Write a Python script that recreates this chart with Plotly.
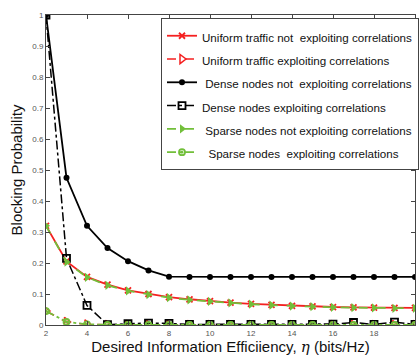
import plotly.graph_objects as go

eta = list(range(2, 21))

uniform_not = [0.32, 0.205, 0.155, 0.13, 0.112, 0.100, 0.090, 0.083, 0.077, 0.072,
               0.068, 0.065, 0.062, 0.060, 0.058, 0.057, 0.056, 0.055, 0.055]
uniform_exp = [0.045, 0.010, 0.002, 0.0, 0.0, 0.0, 0.0, 0.0, 0.0, 0.0,
               0.0, 0.0, 0.0, 0.0, 0.0, 0.0, 0.0, 0.0, 0.0]
dense_not = [1.0, 0.475, 0.32, 0.248, 0.206, 0.176, 0.156, 0.155, 0.155, 0.155,
             0.155, 0.155, 0.155, 0.155, 0.155, 0.155, 0.155, 0.155, 0.155]
dense_exp = [1.0, 0.215, 0.063, 0.001, 0.004, 0.006, 0.005, 0.002, 0.002, 0.002,
             0.002, 0.002, 0.002, 0.002, 0.003, 0.008, 0.002, 0.009, 0.002]
sparse_not = [0.32, 0.203, 0.154, 0.128, 0.110, 0.098, 0.088, 0.081, 0.076, 0.071,
              0.067, 0.064, 0.061, 0.059, 0.057, 0.056, 0.055, 0.054, 0.054]
sparse_exp = [0.045, 0.010, 0.002, 0.0, 0.0, 0.0, 0.0, 0.0, 0.0, 0.0,
              0.0, 0.0, 0.0, 0.0, 0.0, 0.0, 0.0, 0.0, 0.0]

names = [
    "Uniform traffic not  exploiting correlations",
    "Uniform traffic exploiting correlations",
    " Dense nodes not  exploiting correlations",
    "Dense nodes exploiting correlations",
    " Sparse nodes not exploiting correlations",
    "  Sparse nodes  exploiting correlations",
]

RED = "#f52020"
GREEN = "#72bf3a"
BLACK = "#000000"

def lbl(s):
    return '<span style="font-size:11.6px">' + s.replace("  ", "&nbsp; ") + '</span>'

fig = go.Figure()
fig.add_trace(go.Scatter(x=eta, y=uniform_not, name=lbl(names[0]), mode="lines+markers",
                         line=dict(color=RED, width=1.8),
                         marker=dict(symbol="x-thin", size=6, line=dict(color=RED, width=1.8))))
fig.add_trace(go.Scatter(x=eta, y=uniform_exp, name=lbl(names[1]), mode="lines+markers",
                         line=dict(color=RED, width=1.5, dash="dash"),
                         marker=dict(symbol="triangle-right-open", size=8, line=dict(color=RED, width=1.5))))
fig.add_trace(go.Scatter(x=eta, y=dense_not, name=lbl(names[2]), mode="lines+markers",
                         line=dict(color=BLACK, width=1.8),
                         marker=dict(symbol="circle", size=6, color=BLACK)))
fig.add_trace(go.Scatter(x=eta, y=dense_exp, name=lbl(names[3]), mode="lines+markers",
                         line=dict(color=BLACK, width=1.5, dash="dashdot"),
                         marker=dict(symbol="square-open", size=7, line=dict(color=BLACK, width=1.8))))
fig.add_trace(go.Scatter(x=eta, y=sparse_not, name=lbl(names[4]), mode="lines+markers",
                         line=dict(color=GREEN, width=1.8, dash="dash"),
                         marker=dict(symbol="triangle-right", size=8, color=GREEN)))
fig.add_trace(go.Scatter(x=eta, y=sparse_exp, name=lbl(names[5]), mode="lines+markers",
                         line=dict(color=GREEN, width=1.8, dash="dashdot"),
                         marker=dict(symbol="circle-open-dot", size=6, line=dict(color=GREEN, width=1.8))))

fig.update_layout(
    width=419, height=358,
    margin=dict(l=46, r=0, t=15, b=33),
    paper_bgcolor="white", plot_bgcolor="white",
    font=dict(family="Liberation Sans, Arial, sans-serif", color="#222"),
    showlegend=True,
    legend=dict(x=0.312, y=0.99, xanchor="left", yanchor="top",
                bgcolor="white", bordercolor="#444", borderwidth=1,
                font=dict(size=15.6, color="#111"), itemwidth=30,
                tracegroupgap=0),
)
fig.update_xaxes(range=[2, 20], tickmode="array", tickvals=list(range(2, 21, 2)),
                 ticks="inside", ticklen=4, tickcolor="#444",
                 showline=True, linecolor="#444", linewidth=1, mirror="ticks",
                 showgrid=False, zeroline=False,
                 tickfont=dict(size=8, color="#555"),
                 title=dict(text='Desired Information Efficiiency, <span style="font-family:DejaVu Serif"><i>η</i></span> (bits/Hz)',
                            font=dict(size=15, color="#111"), standoff=4))
fig.update_yaxes(range=[0, 1], tickmode="array", tickvals=[i / 10 for i in range(11)],
                 ticktext=["0", "0.1", "0.2", "0.3", "0.4", "0.5", "0.6", "0.7", "0.8", "0.9", "1"],
                 ticks="inside", ticklen=4, tickcolor="#444",
                 showline=True, linecolor="#444", linewidth=1, mirror="ticks",
                 showgrid=False, zeroline=False,
                 tickfont=dict(size=8, color="#555"),
                 title=dict(text="Blocking Probability", font=dict(size=15, color="#111"), standoff=6))

fig.write_html("out.html")
